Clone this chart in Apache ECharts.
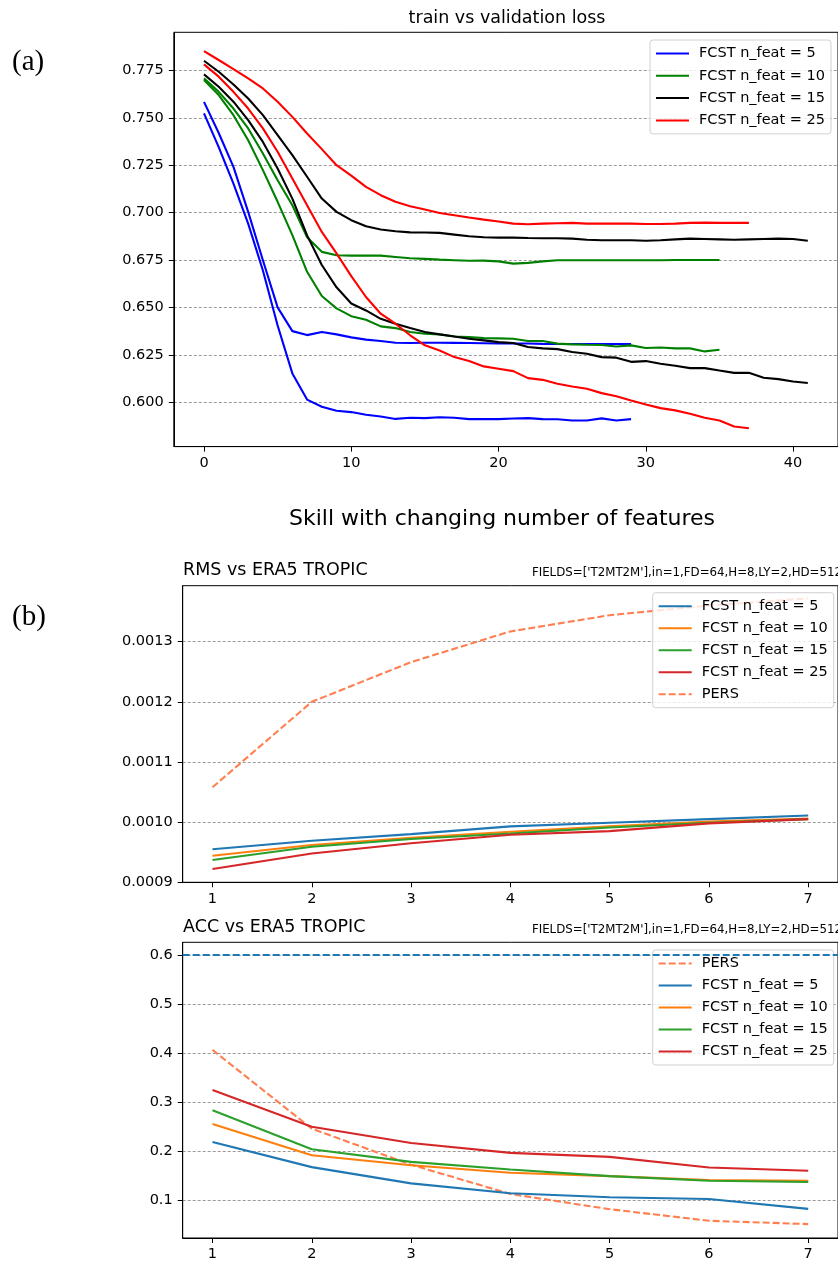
<!DOCTYPE html>
<html>
<head>
<meta charset="utf-8">
<script src="https://cdn.jsdelivr.net/npm/echarts@6/dist/echarts.min.js"></script>
<style>
  html, body { margin: 0; padding: 0; background: #fff; }
  #chart { width: 838px; height: 1262px; }
</style>
</head>
<body>
<div id="chart"></div>
<script>
// ---- (a) train vs validation loss, one value per epoch ----
var blueVal  = [0.7584, 0.7420, 0.7241, 0.7004, 0.6749, 0.6500, 0.6375, 0.6354, 0.6370, 0.6358,
                0.6342, 0.6330, 0.6323, 0.6314, 0.6312, 0.6314, 0.6314, 0.6313, 0.6312, 0.6311,
                0.6310, 0.6310, 0.6310, 0.6308, 0.6307, 0.6307, 0.6307, 0.6307, 0.6307, 0.6307];
var blueTrain = [0.7523, 0.7345, 0.7153, 0.6942, 0.6695, 0.6405, 0.6152, 0.6014, 0.5976, 0.5955,
                 0.5948, 0.5934, 0.5925, 0.5912, 0.5918, 0.5916, 0.5921, 0.5918, 0.5911, 0.5911,
                 0.5911, 0.5914, 0.5916, 0.5911, 0.5910, 0.5904, 0.5904, 0.5915, 0.5904, 0.5911];
var greenVal = [0.7708, 0.7637, 0.7549, 0.7444, 0.7312, 0.7171, 0.7039, 0.6870, 0.6793, 0.6775,
                0.6773, 0.6773, 0.6773, 0.6766, 0.6759, 0.6756, 0.6752, 0.6749, 0.6746, 0.6747,
                0.6743, 0.6731, 0.6735, 0.6743, 0.6749, 0.6749, 0.6749, 0.6749, 0.6749, 0.6749,
                0.6749, 0.6749, 0.6750, 0.6750, 0.6750, 0.6750];
var greenTrain = [0.7699, 0.7620, 0.7514, 0.7382, 0.7224, 0.7057, 0.6881, 0.6688, 0.6560, 0.6495,
                  0.6454, 0.6435, 0.6400, 0.6391, 0.6370, 0.6361, 0.6358, 0.6347, 0.6344, 0.6338,
                  0.6337, 0.6335, 0.6323, 0.6323, 0.6309, 0.6305, 0.6303, 0.6302, 0.6294, 0.6300,
                  0.6286, 0.6289, 0.6284, 0.6284, 0.6268, 0.6277];
var blackVal = [0.7801, 0.7743, 0.7676, 0.7602, 0.7514, 0.7409, 0.7303, 0.7189, 0.7074, 0.7004,
                0.6960, 0.6928, 0.6911, 0.6902, 0.6896, 0.6895, 0.6893, 0.6884, 0.6875, 0.6870,
                0.6868, 0.6868, 0.6866, 0.6865, 0.6865, 0.6863, 0.6857, 0.6854, 0.6854, 0.6854,
                0.6852, 0.6854, 0.6859, 0.6863, 0.6861, 0.6859, 0.6857, 0.6859, 0.6861, 0.6863,
                0.6861, 0.6852];
var blackTrain = [0.7729, 0.7664, 0.7585, 0.7488, 0.7373, 0.7233, 0.7074, 0.6880, 0.6724, 0.6606,
                  0.6521, 0.6484, 0.6440, 0.6414, 0.6391, 0.6370, 0.6358, 0.6347, 0.6335, 0.6326,
                  0.6317, 0.6312, 0.6291, 0.6284, 0.6280, 0.6265, 0.6256, 0.6238, 0.6235, 0.6213,
                  0.6217, 0.6203, 0.6192, 0.6180, 0.6180, 0.6167, 0.6155, 0.6155, 0.6129, 0.6122,
                  0.6109, 0.6101];
var redVal = [0.7852, 0.7805, 0.7757, 0.7708, 0.7655, 0.7585, 0.7505, 0.7417, 0.7335, 0.7250,
              0.7195, 0.7136, 0.7092, 0.7057, 0.7034, 0.7016, 0.6998, 0.6986, 0.6974, 0.6963,
              0.6953, 0.6942, 0.6939, 0.6942, 0.6944, 0.6946, 0.6942, 0.6942, 0.6942, 0.6942,
              0.6940, 0.6940, 0.6942, 0.6946, 0.6947, 0.6946, 0.6946, 0.6946];
var redTrain = [0.7782, 0.7717, 0.7637, 0.7549, 0.7444, 0.7321, 0.7180, 0.7039, 0.6898, 0.6785,
                0.6665, 0.6555, 0.6467, 0.6414, 0.6353, 0.6300, 0.6273, 0.6238, 0.6217, 0.6189,
                0.6177, 0.6164, 0.6127, 0.6118, 0.6097, 0.6083, 0.6071, 0.6048, 0.6032, 0.6009,
                0.5988, 0.5969, 0.5957, 0.5939, 0.5918, 0.5904, 0.5872, 0.5863];
var lossTicksX = [0, 10, 20, 30, 40];
var lossTicksY = [0.600, 0.625, 0.650, 0.675, 0.700, 0.725, 0.750, 0.775];

// ---- (b) skill vs lead ----
var leads = [1, 2, 3, 4, 5, 6, 7];
var rmsN5   = [0.000955, 0.000969, 0.000980, 0.000993, 0.000999, 0.001005, 0.001011];
var rmsN10  = [0.000944, 0.000962, 0.000974, 0.000984, 0.000993, 0.001001, 0.001006];
var rmsN15  = [0.000937, 0.000959, 0.000972, 0.000981, 0.000991, 0.000999, 0.001005];
var rmsN25  = [0.000922, 0.000948, 0.000965, 0.000979, 0.000985, 0.000998, 0.001005];
var rmsPers = [0.001058, 0.001200, 0.001266, 0.001317, 0.001344, 0.001360, 0.001372];
var rmsTicks = [0.0009, 0.0010, 0.0011, 0.0012, 0.0013];

var accPers = [0.4065, 0.2455, 0.1720, 0.1122, 0.0811, 0.0574, 0.0506];
var accN5   = [0.2184, 0.1670, 0.1338, 0.1135, 0.1054, 0.1020, 0.0817];
var accN10  = [0.2549, 0.1913, 0.1710, 0.1555, 0.1487, 0.1406, 0.1392];
var accN15  = [0.2834, 0.2035, 0.1778, 0.1622, 0.1487, 0.1392, 0.1365];
var accN25  = [0.3246, 0.2495, 0.2164, 0.1961, 0.1880, 0.1663, 0.1595];
var accRef = 0.6;
var accTicks = [0.1, 0.2, 0.3, 0.4, 0.5, 0.6];

var names = ['FCST n_feat = 5', 'FCST n_feat = 10', 'FCST n_feat = 15', 'FCST n_feat = 25'];
var fieldsText = "FIELDS=['T2MT2M'],in=1,FD=64,H=8,LY=2,HD=512";

var FONT = 'DejaVu Sans';
var tab = { blue: '#1f77b4', orange: '#ff7f0e', green: '#2ca02c', red: '#d62728', coral: '#ff7f50' };

function byEpoch(arr) {
  return arr.map(function (v, i) { return [i, v]; });
}
function byLead(arr) {
  return arr.map(function (v, i) { return [leads[i], v]; });
}
function line(name, data, color, gi, dash) {
  return {
    type: 'line', name: name, data: data, xAxisIndex: gi, yAxisIndex: gi,
    symbol: 'none', silent: true, z: 3,
    lineStyle: { color: color, width: 2.1, type: dash || 'solid' },
    itemStyle: { color: color }
  };
}
function xAxis(gi, min, max, ticks) {
  return {
    type: 'value', gridIndex: gi, min: min, max: max,
    axisLine: { show: true, onZero: false, lineStyle: { color: '#000', width: 1 } },
    axisTick: { show: true, length: 5, lineStyle: { color: '#000' }, customValues: ticks },
    axisLabel: { customValues: ticks, margin: 9, color: '#000', fontFamily: FONT, fontSize: 14.5 },
    splitLine: { show: false }
  };
}
function yAxis(gi, min, max, ticks, digits) {
  return {
    type: 'value', gridIndex: gi, min: min, max: max,
    axisLine: { show: true, onZero: false, lineStyle: { color: '#000', width: 1 } },
    axisTick: { show: true, length: 5, lineStyle: { color: '#000' }, customValues: ticks },
    axisLabel: {
      customValues: ticks, margin: 10, color: '#000', fontFamily: FONT, fontSize: 14.5,
      formatter: function (v) { return v.toFixed(digits); }
    },
    splitLine: { show: true, lineStyle: { color: '#808080', width: 0.8, type: [3, 2] } }
  };
}
function legend(data, left, top, gap) {
  return {
    orient: 'vertical', left: left, top: top, data: data,
    itemWidth: 33, itemHeight: 14, itemGap: gap,
    padding: [6, 6, 6, 5],
    backgroundColor: 'rgba(255,255,255,0.8)', borderColor: '#d0d0d0', borderWidth: 1, borderRadius: 3,
    textStyle: { fontFamily: FONT, fontSize: 14.5, color: '#000', padding: [0, 0, 0, 5] },
    itemStyle: { opacity: 0 },
    lineStyle: { width: 2 },
    selectedMode: false,
    formatter: function (n) { return n.split('|')[0]; }
  };
}
function text(str, x, y, size, align, family) {
  return {
    type: 'text', x: x, y: y, silent: true,
    style: {
      text: str, fill: '#000', align: align, verticalAlign: 'middle',
      fontFamily: family || FONT, fontSize: size
    }
  };
}

var rmsNames = names.map(function (n) { return n + '|rms'; }).concat(['PERS|rms']);
var accNames = ['PERS|acc'].concat(names.map(function (n) { return n + '|acc'; }));

var series = [
  line(names[0], byEpoch(blueVal), '#0000ff', 0),
  line(names[0], byEpoch(blueTrain), '#0000ff', 0),
  line(names[1], byEpoch(greenVal), '#008000', 0),
  line(names[1], byEpoch(greenTrain), '#008000', 0),
  line(names[2], byEpoch(blackVal), '#000000', 0),
  line(names[2], byEpoch(blackTrain), '#000000', 0),
  line(names[3], byEpoch(redVal), '#ff0000', 0),
  line(names[3], byEpoch(redTrain), '#ff0000', 0),

  line(rmsNames[0], byLead(rmsN5), tab.blue, 1),
  line(rmsNames[1], byLead(rmsN10), tab.orange, 1),
  line(rmsNames[2], byLead(rmsN15), tab.green, 1),
  line(rmsNames[3], byLead(rmsN25), tab.red, 1),
  line(rmsNames[4], byLead(rmsPers), tab.coral, 1, [7, 3]),

  line(accNames[0], byLead(accPers), tab.coral, 2, [7, 3]),
  line(accNames[1], byLead(accN5), tab.blue, 2),
  line(accNames[2], byLead(accN10), tab.orange, 2),
  line(accNames[3], byLead(accN15), tab.green, 2),
  line(accNames[4], byLead(accN25), tab.red, 2)
];
// dashed reference level in the ACC panel
series[series.length - 1].markLine = {
  silent: true, symbol: 'none', label: { show: false }, animation: false,
  lineStyle: { color: tab.blue, width: 2, type: [7, 3] },
  data: [{ yAxis: accRef }]
};

var chart = echarts.init(document.getElementById('chart'), null, { renderer: 'canvas' });
chart.setOption({
  animation: false,
  backgroundColor: '#fff',
  grid: [
    { left: 173.8, top: 32.3, width: 666.1, height: 414.3, show: true, borderColor: '#000', borderWidth: 1, containLabel: false },
    { left: 182.7, top: 585.7, width: 658.2, height: 296.6, show: true, borderColor: '#000', borderWidth: 1, containLabel: false },
    { left: 182.7, top: 942.3, width: 658.2, height: 297.3, show: true, borderColor: '#000', borderWidth: 1, containLabel: false }
  ],
  xAxis: [
    xAxis(0, -2.05, 43.05, lossTicksX),
    xAxis(1, 0.7, 7.3, leads),
    xAxis(2, 0.7, 7.3, leads)
  ],
  yAxis: [
    yAxis(0, 0.5766, 0.7951, lossTicksY, 3),
    yAxis(1, 0.0009, 0.001393, rmsTicks, 4),
    yAxis(2, 0.0222, 0.6264, accTicks, 1)
  ],
  legend: [
    legend(names, 650, 40, 7.3),
    legend(rmsNames, 652.7, 592.7, 7),
    legend(accNames, 652.7, 950, 7)
  ],
  graphic: [
    text('(a)', 12, 62, 29, 'left', 'Liberation Serif'),
    text('(b)', 12, 617.5, 29, 'left', 'Liberation Serif'),
    text('train vs validation loss', 507, 18, 17.5, 'center'),
    text('Skill with changing number of features', 502, 519, 22, 'center'),
    text('RMS vs ERA5 TROPIC', 183, 570.5, 17.5, 'left'),
    text(fieldsText, 842, 573, 11.8, 'right'),
    text('ACC vs ERA5 TROPIC', 183, 927.3, 17.5, 'left'),
    text(fieldsText, 842, 930, 11.8, 'right')
  ],
  series: series
});
</script>
</body>
</html>
